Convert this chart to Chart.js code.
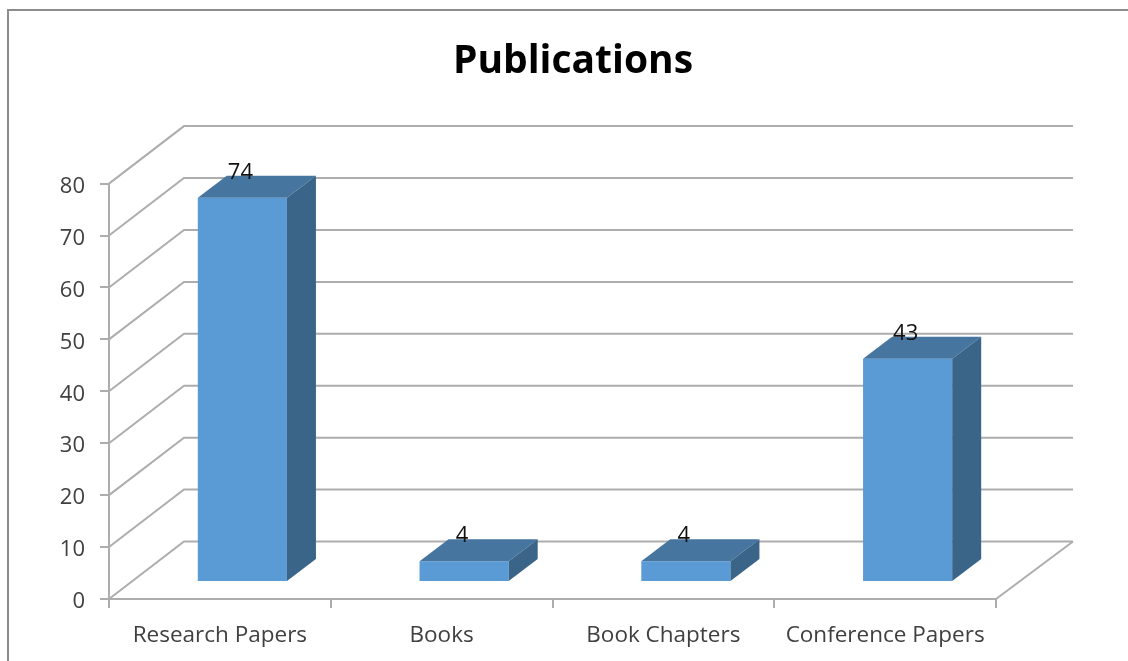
<!DOCTYPE html>
<html lang="en">
<head>
    <meta charset="UTF-8">
    <title>Publications</title>
    <script src="https://cdn.jsdelivr.net/npm/chart.js"></script>
    <style>
        body { margin: 0; background: #fff; }
        /* the reference is a slightly soft screenshot */
        canvas { display: block; filter: blur(0.5px); }
    </style>
</head>
<body>
    <canvas id="chart" width="1128" height="661"></canvas>

    <script>
        const categories = ['Research Papers', 'Books', 'Book Chapters', 'Conference Papers'];
        const publications = [74, 4, 4, 43];

        const gridColor = '#adadad';
        const labelFont = '"Open Sans", sans-serif';
        // how far the back wall and the bars are pushed into the 3D floor
        const wall = { dx: 75, dy: -57.5 };
        const barShift = { dx: 22.5, dy: -17 };
        const barDepth = { dx: 29, dy: -22 };

        function fillPoly(ctx, color, pts) {
            ctx.fillStyle = color;
            ctx.beginPath();
            pts.forEach((p, i) => i ? ctx.lineTo(p[0], p[1]) : ctx.moveTo(p[0], p[1]));
            ctx.closePath();
            ctx.fill();
        }

        const fake3d = {
            id: 'fake3d',
            beforeDraw(chart) {
                // frame of the chart object, cut off at the right and the bottom
                const ctx = chart.ctx;
                ctx.save();
                ctx.strokeStyle = '#8c8c8c';
                ctx.lineWidth = 2;
                ctx.beginPath();
                ctx.moveTo(8, chart.height);
                ctx.lineTo(8, 10);
                ctx.lineTo(chart.width, 10);
                ctx.stroke();
                ctx.restore();
            },
            afterLayout(chart) {
                // the title sits over the middle of the whole window
                chart.titleBlock.left += 75;
                chart.titleBlock.right += 75;
            },
            beforeDatasetsDraw(chart) {
                const { ctx, chartArea: a, scales: { y } } = chart;
                ctx.save();
                ctx.strokeStyle = gridColor;
                ctx.lineWidth = 2;
                ctx.beginPath();
                y.ticks.forEach(t => {
                    const py = y.getPixelForValue(t.value);
                    ctx.moveTo(a.left, py);
                    ctx.lineTo(a.left + wall.dx, py + wall.dy);
                    ctx.lineTo(a.right + wall.dx + 2, py + wall.dy);
                });
                // right edge of the floor
                const floor = y.getPixelForValue(0);
                ctx.moveTo(a.right, floor);
                ctx.lineTo(a.right + wall.dx + 2, floor + wall.dy);
                ctx.stroke();
                ctx.restore();

                ctx.save();
                ctx.translate(barShift.dx, barShift.dy);
            },
            afterDatasetsDraw(chart) {
                const ctx = chart.ctx;
                const bars = chart.getDatasetMeta(0).data;
                bars.forEach(bar => {
                    const l = bar.x - bar.width / 2, r = bar.x + bar.width / 2;
                    fillPoly(ctx, '#4675a0', [[l, bar.y], [r, bar.y], [r + barDepth.dx, bar.y + barDepth.dy], [l + barDepth.dx, bar.y + barDepth.dy]]);
                    fillPoly(ctx, '#3a6589', [[r, bar.y], [r + barDepth.dx, bar.y + barDepth.dy], [r + barDepth.dx, bar.base + barDepth.dy], [r, bar.base]]);
                });
                ctx.restore();

                ctx.save();
                ctx.fillStyle = '#111';
                ctx.font = '22px ' + labelFont;
                ctx.textAlign = 'center';
                ctx.textBaseline = 'middle';
                bars.forEach((bar, i) => {
                    ctx.fillText(publications[i], bar.x + barShift.dx - 2, bar.y + barShift.dy - 25);
                });
                ctx.restore();
            }
        };

        const ctx = document.getElementById('chart').getContext('2d');
        new Chart(ctx, {
            type: 'bar',
            data: {
                labels: categories,
                datasets: [{
                    data: publications,
                    backgroundColor: '#5b9bd5',
                    borderWidth: 0,
                    barPercentage: 0.402,
                    categoryPercentage: 1,
                    clip: false
                }]
            },
            options: {
                responsive: false,
                animation: false,
                layout: { padding: { left: 0, right: 132, top: 0, bottom: 0 } },
                plugins: {
                    legend: { display: false },
                    tooltip: { enabled: false },
                    title: {
                        display: true,
                        text: 'Publications',
                        color: '#000',
                        font: { family: '"Open Sans", sans-serif', size: 39, weight: 'bold' },
                        padding: { top: 38, bottom: 98.8 }
                    }
                },
                scales: {
                    x: {
                        grid: { drawOnChartArea: false, color: gridColor, lineWidth: 2, tickLength: 9 },
                        border: { color: gridColor, width: 2 },
                        ticks: { color: '#404040', font: { family: labelFont, size: 22.5 }, padding: 14, maxRotation: 0 },
                        afterFit(scale) { scale.height = 62; }
                    },
                    y: {
                        min: 0,
                        max: 80,
                        grid: { drawOnChartArea: false, color: gridColor, lineWidth: 2, tickLength: 9 },
                        border: { color: gridColor, width: 2 },
                        ticks: { stepSize: 10, color: '#404040', font: { family: labelFont, size: 22 }, padding: 15, labelOffset: 3 },
                        afterFit(scale) { scale.width = 109; }
                    }
                }
            },
            plugins: [fake3d]
        });
    </script>
</body>
</html>
